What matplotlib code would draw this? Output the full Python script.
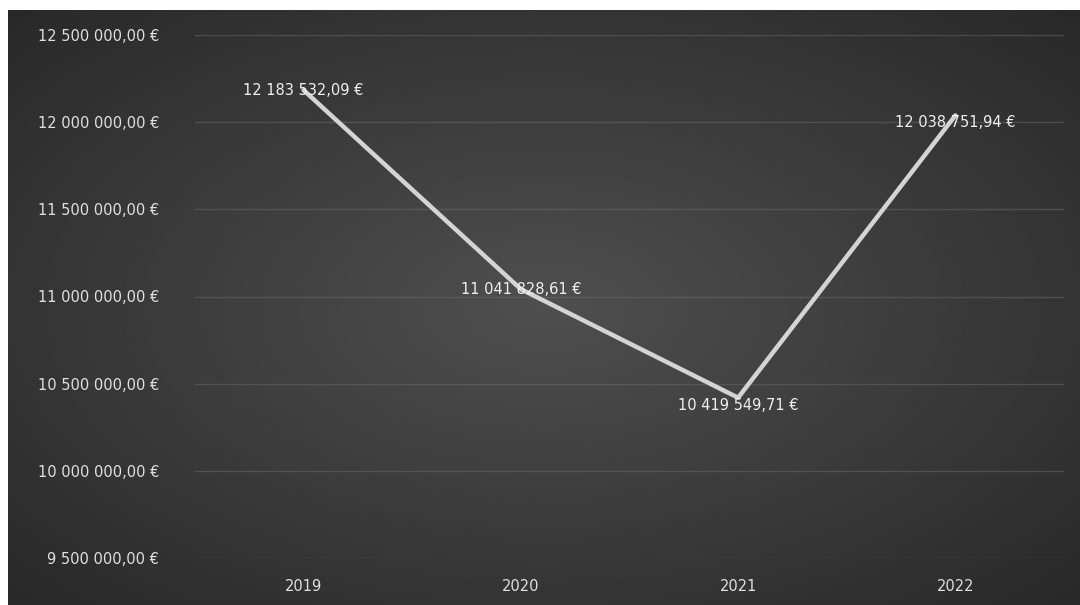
import numpy as np
import matplotlib.pyplot as plt
from matplotlib.ticker import FuncFormatter

years = ['2019', '2020', '2021', '2022']
values = [12183532.09, 11041828.61, 10419549.71, 12038751.94]
y_ticks = [9500000, 10000000, 10500000, 11000000, 11500000, 12000000, 12500000]


def euro(v, pos=None):
    s = f"{v:,.2f}".replace(',', ' ').replace('.', ',')
    return s + ' €'


plt.rcParams['font.family'] = ['DejaVu Sans']

fig = plt.figure(figsize=(10.8, 6.05), dpi=100, facecolor='white')

# dark radial gradient background
bg = fig.add_axes([8 / 1080, 0, 1 - 8 / 1080, 1 - 10 / 605])
gx, gy = np.meshgrid(np.linspace(-1, 1, 400), np.linspace(-1, 1, 240))
r = np.sqrt(gx ** 2 + gy ** 2) / np.sqrt(2)
shade = 0.31 - 0.15 * r
bg.imshow(shade, cmap='gray', vmin=0, vmax=1, aspect='auto', extent=[0, 1, 0, 1])
bg.axis('off')

ax = fig.add_axes([195 / 1080, (605 - 558) / 605, (1064 - 195) / 1080, (558 - 35) / 605])
ax.patch.set_alpha(0)
x = np.arange(len(years))
ax.plot(x, values, color='#d4d4d4', linewidth=3.2, solid_capstyle='round', zorder=3)

for xi, v in zip(x, values):
    ax.text(xi, v, euro(v), color='#f0f0f0', fontsize=10.5, ha='center',
            va='top' if xi >= 2 else 'center', zorder=4)

ax.set_xlim(-0.5, len(years) - 0.5)
ax.set_ylim(9500000, 12500000)
ax.set_yticks(y_ticks)
ax.yaxis.set_major_formatter(FuncFormatter(euro))
ax.set_xticks(x)
ax.set_xticklabels(years)
ax.grid(axis='y', color='#6a6a6a', linewidth=1, alpha=0.5)
ax.tick_params(colors='#e0e0e0', labelsize=10.5, length=0)
ax.tick_params(axis='y', pad=26)
ax.tick_params(axis='x', pad=15)
for s in ax.spines.values():
    s.set_visible(False)

fig.savefig('out.png', dpi=100, facecolor='white')
